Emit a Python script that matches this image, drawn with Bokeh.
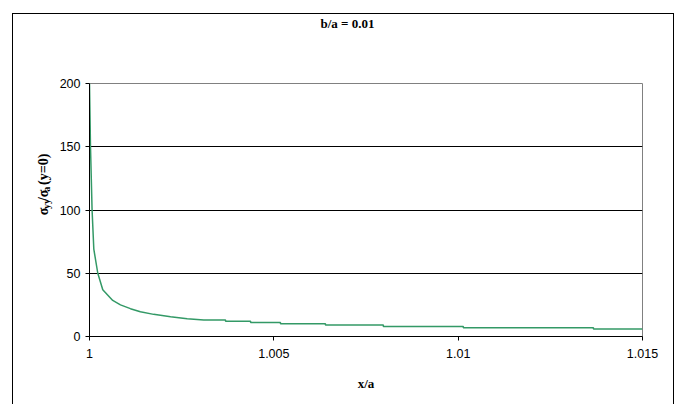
import math
from bokeh.plotting import figure
from bokeh.models import FixedTicker, Range1d
from bokeh.layouts import column, row
from bokeh.core.properties import value
from bokeh.embed import file_html
from bokeh.resources import INLINE

# ---- data ----
x_over_a = [1.0, 1.000027, 1.00007, 1.000117, 1.000225, 1.00036, 1.00063,
            1.00084, 1.00111, 1.00138, 1.00174, 1.0022, 1.00265, 1.0031,
            1.00369, 1.00369, 1.00437, 1.00437, 1.00518, 1.00518, 1.0064,
            1.0064, 1.00797, 1.00797, 1.01014, 1.01014, 1.01367, 1.01367, 1.015]
stress_ratio = [200, 150, 100, 69, 50, 37, 28.5, 25, 22, 19.5, 17.5, 15.6, 14,
                13, 13, 12, 12, 11, 11, 10, 10, 9, 9, 8, 8, 7, 7, 6, 6]

x_ticks = [1.0, 1.005, 1.01, 1.015]
x_tick_labels = ["1", "1.005", "1.01", "1.015"]
y_ticks = [0, 50, 100, 150, 200]
grid_levels = [50, 100, 150]

title_text = "b/a = 0.01"
x_label_text = "x/a"
# y-axis title pieces: (text, font size, subscript?, advance px)
y_label_pieces = [("σ", "14px", False, 8.0), ("yy", "10px", True, 10.5),
                  ("/σ", "14px", False, 12.0), ("a", "10px", True, 9.0),
                  ("(y=0)", "14px", False, 32.0)]

X0, X1 = 1.0, 1.015
Y0, Y1 = 0, 200
serif = "Liberation Serif"


def blank_fig(w, h):
    f = figure(width=w, height=h, output_backend="svg", toolbar_location=None,
               x_range=Range1d(0, w), y_range=Range1d(0, h),
               min_border=0)
    f.axis.visible = False
    f.grid.visible = False
    f.outline_line_color = None
    f.background_fill_color = "white"
    f.border_fill_color = "white"
    return f


# ---- title strip ----
TOP_H = 59
top = blank_fig(660, TOP_H)
top.text(x=[334], y=[TOP_H - 9], text=[title_text], text_font=value(serif),
         text_font_style="bold", text_font_size="13px", text_align="center",
         text_baseline="middle", text_color="black")

# ---- main plot ----
MAIN_H = 331
LAB_W = 40
p = figure(width=660 - LAB_W, height=MAIN_H, output_backend="svg",
           toolbar_location=None,
           x_range=Range1d(X0, X1), y_range=Range1d(Y0, Y1),
           min_border_left=36, min_border_right=31, min_border_top=10,
           min_border_bottom=68)

p.line(x_over_a, stress_ratio, line_color="#339966", line_width=1.5)

p.outline_line_color = "#808080"
p.outline_line_width = 1
p.background_fill_color = "white"
p.border_fill_color = "white"

p.xgrid.visible = False
p.ygrid.ticker = FixedTicker(ticks=grid_levels)
p.ygrid.grid_line_color = "black"
p.ygrid.grid_line_width = 1

for ax in (p.xaxis[0], p.yaxis[0]):
    ax.axis_line_color = "black"
    ax.axis_line_width = 1
    ax.major_tick_line_color = "black"
    ax.major_tick_in = 0
    ax.major_tick_out = 4
    ax.minor_tick_line_color = None
    ax.major_label_text_font = "Liberation Sans"
    ax.major_label_text_font_size = "12.5px"
    ax.major_label_text_color = "black"

p.xaxis.ticker = FixedTicker(ticks=x_ticks)
p.xaxis.major_label_overrides = {t: s for t, s in zip(x_ticks, x_tick_labels)}
p.xaxis.major_label_standoff = 8
p.xaxis.axis_label = x_label_text
p.xaxis.axis_label_text_font = serif
p.xaxis.axis_label_text_font_style = "bold"
p.xaxis.axis_label_text_font_size = "13px"
p.xaxis.axis_label_text_color = "black"
p.xaxis.axis_label_standoff = 15

p.yaxis.ticker = FixedTicker(ticks=y_ticks)
p.yaxis.major_label_standoff = 5

# ---- y-axis title strip (rotated text with subscripts) ----
lab = blank_fig(LAB_W, MAIN_H)
frame_mid = MAIN_H - 10 - 253 / 2
total = sum(pc[3] for pc in y_label_pieces)
pos = frame_mid - total / 2
for txt, size, sub, adv in y_label_pieces:
    lab.text(x=[30 + (3 if sub else 0)], y=[pos], text=[txt], angle=math.pi / 2,
             text_font=value(serif), text_font_style="bold", text_font_size=size,
             text_align="left", text_baseline="middle", text_color="black")
    pos += adv

layout = column(top, row(lab, p))
layout.styles = {"margin-left": "12px", "margin-top": "13px",
                 "border-left": "1px solid black", "border-top": "1px solid black",
                 "border-right": "1px solid black"}

open("out.html", "w").write(file_html(layout, INLINE))
